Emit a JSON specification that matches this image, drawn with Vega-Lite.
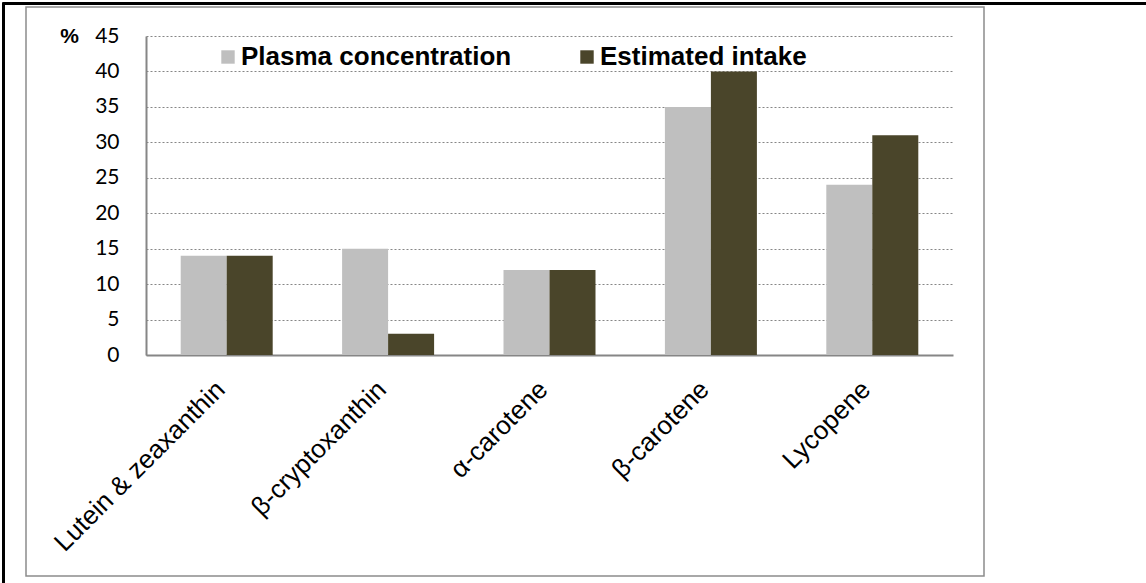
{
  "$schema": "https://vega.github.io/schema/vega-lite/v6.json",
  "autosize": "none",
  "padding": {"left": 26, "top": 7, "right": 162, "bottom": 7},
  "width": 958,
  "height": 569,
  "background": "white",
  "view": {"stroke": "#8c8c8c", "strokeWidth": 1.5},
  "data": {
    "values": [
      {"carotenoid": "Lutein & zeaxanthin", "series": "Plasma concentration", "value": 14},
      {"carotenoid": "Lutein & zeaxanthin", "series": "Estimated intake", "value": 14},
      {"carotenoid": "β-cryptoxanthin", "series": "Plasma concentration", "value": 15},
      {"carotenoid": "β-cryptoxanthin", "series": "Estimated intake", "value": 3},
      {"carotenoid": "α-carotene", "series": "Plasma concentration", "value": 12},
      {"carotenoid": "α-carotene", "series": "Estimated intake", "value": 12},
      {"carotenoid": "β-carotene", "series": "Plasma concentration", "value": 35},
      {"carotenoid": "β-carotene", "series": "Estimated intake", "value": 40},
      {"carotenoid": "Lycopene", "series": "Plasma concentration", "value": 24},
      {"carotenoid": "Lycopene", "series": "Estimated intake", "value": 31}
    ]
  },
  "layer": [
    {
      "mark": {"type": "bar"},
      "encoding": {
        "x": {
          "field": "carotenoid",
          "type": "nominal",
          "sort": ["Lutein & zeaxanthin", "β-cryptoxanthin", "α-carotene", "β-carotene", "Lycopene"],
          "scale": {"range": [120, 927], "paddingInner": 0.43, "paddingOuter": 0.215},
          "axis": {
            "title": null,
            "orient": "bottom",
            "offset": -221,
            "ticks": false,
            "tickSize": 0,
            "domainColor": "#868686",
            "domainWidth": 2,
            "labelAngle": -45,
            "labelAlign": "right",
            "labelBaseline": "middle",
            "labelPadding": 30,
            "labelOffset": -6,
            "labelFont": "Liberation Sans",
            "labelFontSize": 26,
            "labelColor": "#000000",
            "labelLimit": 500,
            "grid": false
          }
        },
        "xOffset": {
          "field": "series",
          "type": "nominal",
          "sort": ["Plasma concentration", "Estimated intake"],
          "scale": {"paddingInner": 0, "paddingOuter": 0}
        },
        "y": {
          "field": "value",
          "type": "quantitative",
          "scale": {"domain": [0, 45], "range": [348, 29], "nice": false, "zero": true},
          "axis": {
            "title": "%",
            "titleAngle": 0,
            "titleX": -77,
            "titleY": 29,
            "titleAlign": "center",
            "titleBaseline": "middle",
            "titleFont": "Liberation Sans",
            "titleFontSize": 21,
            "titleFontWeight": "bold",
            "titleColor": "#000000",
            "offset": -120,
            "values": [0, 5, 10, 15, 20, 25, 30, 35, 40, 45],
            "ticks": false,
            "tickSize": 0,
            "domainColor": "#868686",
            "domainWidth": 2,
            "labelPadding": 27,
            "labelFont": "Lato",
            "labelFontSize": 21,
            "labelColor": "#000000",
            "grid": true,
            "gridColor": "#868686",
            "gridDash": [2, 2],
            "gridWidth": 1
          }
        },
        "color": {
          "field": "series",
          "type": "nominal",
          "scale": {"domain": ["Plasma concentration", "Estimated intake"], "range": ["#BFBFBF", "#4A452A"]},
          "legend": {
            "title": null,
            "orient": "none",
            "direction": "horizontal",
            "legendX": 189,
            "legendY": 37,
            "symbolType": "square",
            "symbolSize": 180,
            "symbolStrokeWidth": 0,
            "labelFont": "Liberation Sans",
            "labelFontSize": 26,
            "labelFontWeight": "bold",
            "labelColor": "#000000",
            "labelOffset": 0,
            "columnPadding": 62,
            "labelLimit": 400
          }
        }
      }
    },
    {
      "mark": {"type": "point", "opacity": 0},
      "encoding": {
        "x": {
          "field": "value",
          "type": "quantitative",
          "scale": {"domain": [0, 45], "range": [-24, 1300], "nice": false, "zero": true},
          "axis": {
            "orient": "top",
            "offset": 4,
            "title": null,
            "labels": false,
            "ticks": false,
            "grid": false,
            "domainColor": "#000000",
            "domainWidth": 3
          }
        },
        "y": {
          "field": "value",
          "type": "quantitative",
          "scale": {"domain": [0, 45], "range": [700, -5], "nice": false, "zero": true},
          "axis": {
            "orient": "left",
            "offset": 23,
            "title": null,
            "labels": false,
            "ticks": false,
            "grid": false,
            "domainColor": "#000000",
            "domainWidth": 3
          }
        }
      }
    }
  ],
  "resolve": {"scale": {"x": "independent", "y": "independent"}, "axis": {"x": "independent", "y": "independent"}}
}
